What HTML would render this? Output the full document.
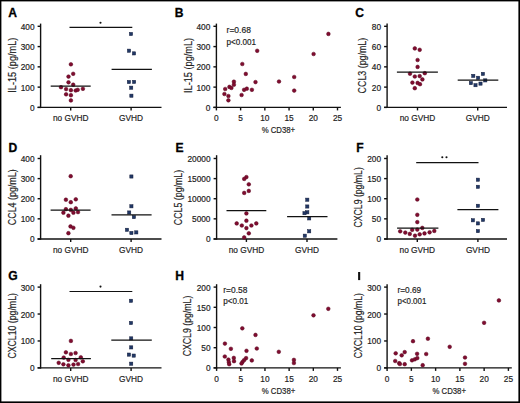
<!DOCTYPE html>
<html><head><meta charset="utf-8"><style>
html,body{margin:0;padding:0;background:#fff;width:520px;height:403px;overflow:hidden}
svg{display:block}
text{font-family:"Liberation Sans",sans-serif;fill:#222;stroke:#222;stroke-width:0.18px}
</style></head><body>
<svg width="520" height="403" viewBox="0 0 520 403">
<rect x="0" y="0" width="520" height="403" fill="#fff"/>
<text x="8.3" y="16.6" font-size="12.1" text-anchor="start" font-weight="bold" style="fill:#000;stroke:#000;stroke-width:0.3px">A</text>
<line x1="40.6" y1="23.6" x2="40.6" y2="108.1" stroke="#111" stroke-width="1.4"/>
<line x1="37.6" y1="107.4" x2="40.6" y2="107.4" stroke="#111" stroke-width="1.4"/>
<text x="34.5" y="110.9" font-size="8.3" text-anchor="end" font-weight="normal" >0</text>
<line x1="37.6" y1="87.12" x2="40.6" y2="87.12" stroke="#111" stroke-width="1.4"/>
<text x="34.5" y="90.62" font-size="8.3" text-anchor="end" font-weight="normal" >100</text>
<line x1="37.6" y1="66.85" x2="40.6" y2="66.85" stroke="#111" stroke-width="1.4"/>
<text x="34.5" y="70.35" font-size="8.3" text-anchor="end" font-weight="normal" >200</text>
<line x1="37.6" y1="46.58" x2="40.6" y2="46.58" stroke="#111" stroke-width="1.4"/>
<text x="34.5" y="50.08" font-size="8.3" text-anchor="end" font-weight="normal" >300</text>
<line x1="37.6" y1="26.3" x2="40.6" y2="26.3" stroke="#111" stroke-width="1.4"/>
<text x="34.5" y="29.8" font-size="8.3" text-anchor="end" font-weight="normal" >400</text>
<text x="0" y="0" font-size="10.4" text-anchor="middle" textLength="55" lengthAdjust="spacingAndGlyphs" transform="translate(15.9,65.2) rotate(-90)">IL-15 (pg/mL)</text>
<line x1="37.6" y1="107.4" x2="161.5" y2="107.4" stroke="#111" stroke-width="1.4"/>
<line x1="70.7" y1="107.4" x2="70.7" y2="110.4" stroke="#111" stroke-width="1.4"/>
<line x1="131.1" y1="107.4" x2="131.1" y2="110.4" stroke="#111" stroke-width="1.4"/>
<text x="70.7" y="121.4" font-size="8.3" text-anchor="middle" font-weight="normal" >no GVHD</text>
<text x="131.1" y="121.4" font-size="8.3" text-anchor="middle" font-weight="normal" >GVHD</text>
<line x1="69.5" y1="27.3" x2="132.3" y2="27.3" stroke="#111" stroke-width="1.2"/>
<circle cx="100.5" cy="22.7" r="1.05" fill="#111"/>
<circle cx="70.9" cy="64.3" r="1.85" fill="#800c30" stroke="#5a0a20" stroke-width="0.5"/>
<circle cx="73.2" cy="73.8" r="1.85" fill="#800c30" stroke="#5a0a20" stroke-width="0.5"/>
<circle cx="68.5" cy="76.6" r="1.85" fill="#800c30" stroke="#5a0a20" stroke-width="0.5"/>
<circle cx="68.5" cy="82.3" r="1.85" fill="#800c30" stroke="#5a0a20" stroke-width="0.5"/>
<circle cx="73.2" cy="84.7" r="1.85" fill="#800c30" stroke="#5a0a20" stroke-width="0.5"/>
<circle cx="61" cy="87.2" r="1.85" fill="#800c30" stroke="#5a0a20" stroke-width="0.5"/>
<circle cx="66.1" cy="89.1" r="1.85" fill="#800c30" stroke="#5a0a20" stroke-width="0.5"/>
<circle cx="70.9" cy="90.2" r="1.85" fill="#800c30" stroke="#5a0a20" stroke-width="0.5"/>
<circle cx="75.7" cy="90.5" r="1.85" fill="#800c30" stroke="#5a0a20" stroke-width="0.5"/>
<circle cx="77.7" cy="89.8" r="1.85" fill="#800c30" stroke="#5a0a20" stroke-width="0.5"/>
<circle cx="82.9" cy="88.8" r="1.85" fill="#800c30" stroke="#5a0a20" stroke-width="0.5"/>
<circle cx="66.1" cy="94.3" r="1.85" fill="#800c30" stroke="#5a0a20" stroke-width="0.5"/>
<circle cx="70.9" cy="95.2" r="1.85" fill="#800c30" stroke="#5a0a20" stroke-width="0.5"/>
<circle cx="70.9" cy="100.4" r="1.85" fill="#800c30" stroke="#5a0a20" stroke-width="0.5"/>
<line x1="50.7" y1="86.1" x2="90.7" y2="86.1" stroke="#111" stroke-width="1.25"/>
<rect x="129.4" y="32.4" width="3.2" height="3.2" fill="#213866" stroke="#141e3c" stroke-width="0.5"/>
<rect x="127.4" y="49.1" width="3.2" height="3.2" fill="#213866" stroke="#141e3c" stroke-width="0.5"/>
<rect x="132.4" y="51.8" width="3.2" height="3.2" fill="#213866" stroke="#141e3c" stroke-width="0.5"/>
<rect x="127.3" y="80.4" width="3.2" height="3.2" fill="#213866" stroke="#141e3c" stroke-width="0.5"/>
<rect x="132.5" y="80.3" width="3.2" height="3.2" fill="#213866" stroke="#141e3c" stroke-width="0.5"/>
<rect x="129.6" y="86.1" width="3.2" height="3.2" fill="#213866" stroke="#141e3c" stroke-width="0.5"/>
<rect x="129.8" y="94.1" width="3.2" height="3.2" fill="#213866" stroke="#141e3c" stroke-width="0.5"/>
<line x1="111.6" y1="69.4" x2="151.9" y2="69.4" stroke="#111" stroke-width="1.25"/>
<text x="174.8" y="16.9" font-size="12.1" text-anchor="start" font-weight="bold" style="fill:#000;stroke:#000;stroke-width:0.3px">B</text>
<line x1="216.4" y1="23.6" x2="216.4" y2="108.1" stroke="#111" stroke-width="1.4"/>
<line x1="213.4" y1="107.4" x2="216.4" y2="107.4" stroke="#111" stroke-width="1.4"/>
<text x="210.3" y="110.9" font-size="8.3" text-anchor="end" font-weight="normal" >0</text>
<line x1="213.4" y1="87.12" x2="216.4" y2="87.12" stroke="#111" stroke-width="1.4"/>
<text x="210.3" y="90.62" font-size="8.3" text-anchor="end" font-weight="normal" >100</text>
<line x1="213.4" y1="66.85" x2="216.4" y2="66.85" stroke="#111" stroke-width="1.4"/>
<text x="210.3" y="70.35" font-size="8.3" text-anchor="end" font-weight="normal" >200</text>
<line x1="213.4" y1="46.58" x2="216.4" y2="46.58" stroke="#111" stroke-width="1.4"/>
<text x="210.3" y="50.08" font-size="8.3" text-anchor="end" font-weight="normal" >300</text>
<line x1="213.4" y1="26.3" x2="216.4" y2="26.3" stroke="#111" stroke-width="1.4"/>
<text x="210.3" y="29.8" font-size="8.3" text-anchor="end" font-weight="normal" >400</text>
<text x="0" y="0" font-size="10.4" text-anchor="middle" textLength="55.1" lengthAdjust="spacingAndGlyphs" transform="translate(191.9,65.45) rotate(-90)">IL-15 (pg/mL)</text>
<line x1="213.4" y1="107.4" x2="340.9" y2="107.4" stroke="#111" stroke-width="1.4"/>
<line x1="216.4" y1="107.4" x2="216.4" y2="110.4" stroke="#111" stroke-width="1.4"/>
<text x="216.4" y="121" font-size="8.3" text-anchor="middle" font-weight="normal" >0</text>
<line x1="240.62" y1="107.4" x2="240.62" y2="110.4" stroke="#111" stroke-width="1.4"/>
<text x="240.62" y="121" font-size="8.3" text-anchor="middle" font-weight="normal" >5</text>
<line x1="264.84" y1="107.4" x2="264.84" y2="110.4" stroke="#111" stroke-width="1.4"/>
<text x="264.84" y="121" font-size="8.3" text-anchor="middle" font-weight="normal" >10</text>
<line x1="289.06" y1="107.4" x2="289.06" y2="110.4" stroke="#111" stroke-width="1.4"/>
<text x="289.06" y="121" font-size="8.3" text-anchor="middle" font-weight="normal" >15</text>
<line x1="313.28" y1="107.4" x2="313.28" y2="110.4" stroke="#111" stroke-width="1.4"/>
<text x="313.28" y="121" font-size="8.3" text-anchor="middle" font-weight="normal" >20</text>
<line x1="337.5" y1="107.4" x2="337.5" y2="110.4" stroke="#111" stroke-width="1.4"/>
<text x="337.5" y="121" font-size="8.3" text-anchor="middle" font-weight="normal" >25</text>
<text x="278.4" y="133" font-size="8.3" text-anchor="middle" font-weight="normal" textLength="33.5" lengthAdjust="spacingAndGlyphs">% CD38+</text>
<text x="226.6" y="33.3" font-size="8.9" text-anchor="start" font-weight="normal" textLength="24.3" lengthAdjust="spacingAndGlyphs">r=0.68</text>
<text x="226.6" y="44.6" font-size="8.9" text-anchor="start" font-weight="normal" textLength="29.5" lengthAdjust="spacingAndGlyphs">p&lt;0.001</text>
<circle cx="257.2" cy="50.8" r="1.85" fill="#800c30" stroke="#5a0a20" stroke-width="0.5"/>
<circle cx="242.3" cy="64" r="1.85" fill="#800c30" stroke="#5a0a20" stroke-width="0.5"/>
<circle cx="245.8" cy="73.9" r="1.85" fill="#800c30" stroke="#5a0a20" stroke-width="0.5"/>
<circle cx="255.5" cy="82.1" r="1.85" fill="#800c30" stroke="#5a0a20" stroke-width="0.5"/>
<circle cx="233.9" cy="81.7" r="1.85" fill="#800c30" stroke="#5a0a20" stroke-width="0.5"/>
<circle cx="233.9" cy="84.7" r="1.85" fill="#800c30" stroke="#5a0a20" stroke-width="0.5"/>
<circle cx="229.4" cy="86.9" r="1.85" fill="#800c30" stroke="#5a0a20" stroke-width="0.5"/>
<circle cx="231.4" cy="87.9" r="1.85" fill="#800c30" stroke="#5a0a20" stroke-width="0.5"/>
<circle cx="225.2" cy="89" r="1.85" fill="#800c30" stroke="#5a0a20" stroke-width="0.5"/>
<circle cx="224.4" cy="94" r="1.85" fill="#800c30" stroke="#5a0a20" stroke-width="0.5"/>
<circle cx="228.4" cy="96" r="1.85" fill="#800c30" stroke="#5a0a20" stroke-width="0.5"/>
<circle cx="228.4" cy="100.3" r="1.85" fill="#800c30" stroke="#5a0a20" stroke-width="0.5"/>
<circle cx="241.6" cy="95" r="1.85" fill="#800c30" stroke="#5a0a20" stroke-width="0.5"/>
<circle cx="244.1" cy="89.8" r="1.85" fill="#800c30" stroke="#5a0a20" stroke-width="0.5"/>
<circle cx="246.8" cy="88.7" r="1.85" fill="#800c30" stroke="#5a0a20" stroke-width="0.5"/>
<circle cx="251.9" cy="89.8" r="1.85" fill="#800c30" stroke="#5a0a20" stroke-width="0.5"/>
<circle cx="328.4" cy="33.9" r="1.85" fill="#800c30" stroke="#5a0a20" stroke-width="0.5"/>
<circle cx="313.6" cy="54" r="1.85" fill="#800c30" stroke="#5a0a20" stroke-width="0.5"/>
<circle cx="294.2" cy="77" r="1.85" fill="#800c30" stroke="#5a0a20" stroke-width="0.5"/>
<circle cx="279" cy="81.5" r="1.85" fill="#800c30" stroke="#5a0a20" stroke-width="0.5"/>
<circle cx="294.2" cy="90.6" r="1.85" fill="#800c30" stroke="#5a0a20" stroke-width="0.5"/>
<text x="355.2" y="17.2" font-size="12.1" text-anchor="start" font-weight="bold" style="fill:#000;stroke:#000;stroke-width:0.3px">C</text>
<line x1="387.1" y1="23.6" x2="387.1" y2="108.1" stroke="#111" stroke-width="1.4"/>
<line x1="384.1" y1="107.4" x2="387.1" y2="107.4" stroke="#111" stroke-width="1.4"/>
<text x="381" y="110.9" font-size="8.3" text-anchor="end" font-weight="normal" >0</text>
<line x1="384.1" y1="87.12" x2="387.1" y2="87.12" stroke="#111" stroke-width="1.4"/>
<text x="381" y="90.62" font-size="8.3" text-anchor="end" font-weight="normal" >20</text>
<line x1="384.1" y1="66.85" x2="387.1" y2="66.85" stroke="#111" stroke-width="1.4"/>
<text x="381" y="70.35" font-size="8.3" text-anchor="end" font-weight="normal" >40</text>
<line x1="384.1" y1="46.58" x2="387.1" y2="46.58" stroke="#111" stroke-width="1.4"/>
<text x="381" y="50.08" font-size="8.3" text-anchor="end" font-weight="normal" >60</text>
<line x1="384.1" y1="26.3" x2="387.1" y2="26.3" stroke="#111" stroke-width="1.4"/>
<text x="381" y="29.8" font-size="8.3" text-anchor="end" font-weight="normal" >80</text>
<text x="0" y="0" font-size="10.4" text-anchor="middle" textLength="55.6" lengthAdjust="spacingAndGlyphs" transform="translate(366.4,65.6) rotate(-90)">CCL3 (pg/mL)</text>
<line x1="384.1" y1="107.4" x2="507" y2="107.4" stroke="#111" stroke-width="1.4"/>
<line x1="417.5" y1="107.4" x2="417.5" y2="110.4" stroke="#111" stroke-width="1.4"/>
<line x1="477.7" y1="107.4" x2="477.7" y2="110.4" stroke="#111" stroke-width="1.4"/>
<text x="417.5" y="121.4" font-size="8.3" text-anchor="middle" font-weight="normal" >no GVHD</text>
<text x="477.7" y="121.4" font-size="8.3" text-anchor="middle" font-weight="normal" >GVHD</text>
<circle cx="414.8" cy="48.4" r="1.85" fill="#800c30" stroke="#5a0a20" stroke-width="0.5"/>
<circle cx="419.7" cy="49.8" r="1.85" fill="#800c30" stroke="#5a0a20" stroke-width="0.5"/>
<circle cx="417.6" cy="60" r="1.85" fill="#800c30" stroke="#5a0a20" stroke-width="0.5"/>
<circle cx="417.6" cy="66.9" r="1.85" fill="#800c30" stroke="#5a0a20" stroke-width="0.5"/>
<circle cx="410" cy="73.7" r="1.85" fill="#800c30" stroke="#5a0a20" stroke-width="0.5"/>
<circle cx="424.8" cy="73.2" r="1.85" fill="#800c30" stroke="#5a0a20" stroke-width="0.5"/>
<circle cx="414.8" cy="76.5" r="1.85" fill="#800c30" stroke="#5a0a20" stroke-width="0.5"/>
<circle cx="419.7" cy="76.1" r="1.85" fill="#800c30" stroke="#5a0a20" stroke-width="0.5"/>
<circle cx="422.4" cy="79.4" r="1.85" fill="#800c30" stroke="#5a0a20" stroke-width="0.5"/>
<circle cx="412.4" cy="82.6" r="1.85" fill="#800c30" stroke="#5a0a20" stroke-width="0.5"/>
<circle cx="417.6" cy="82.9" r="1.85" fill="#800c30" stroke="#5a0a20" stroke-width="0.5"/>
<circle cx="420" cy="84.2" r="1.85" fill="#800c30" stroke="#5a0a20" stroke-width="0.5"/>
<circle cx="414.8" cy="88.2" r="1.85" fill="#800c30" stroke="#5a0a20" stroke-width="0.5"/>
<line x1="396.9" y1="72" x2="437.9" y2="72" stroke="#111" stroke-width="1.25"/>
<rect x="471.7" y="74.3" width="3.2" height="3.2" fill="#213866" stroke="#141e3c" stroke-width="0.5"/>
<rect x="481.3" y="72.3" width="3.2" height="3.2" fill="#213866" stroke="#141e3c" stroke-width="0.5"/>
<rect x="476.5" y="76.2" width="3.2" height="3.2" fill="#213866" stroke="#141e3c" stroke-width="0.5"/>
<rect x="469.3" y="81.5" width="3.2" height="3.2" fill="#213866" stroke="#141e3c" stroke-width="0.5"/>
<rect x="473.9" y="83.6" width="3.2" height="3.2" fill="#213866" stroke="#141e3c" stroke-width="0.5"/>
<rect x="478.9" y="82" width="3.2" height="3.2" fill="#213866" stroke="#141e3c" stroke-width="0.5"/>
<rect x="483.7" y="78.8" width="3.2" height="3.2" fill="#213866" stroke="#141e3c" stroke-width="0.5"/>
<line x1="457.7" y1="80.2" x2="498.3" y2="80.2" stroke="#111" stroke-width="1.25"/>
<text x="8.4" y="151.8" font-size="12.1" text-anchor="start" font-weight="bold" style="fill:#000;stroke:#000;stroke-width:0.3px">D</text>
<line x1="40.6" y1="155.2" x2="40.6" y2="239.65" stroke="#111" stroke-width="1.4"/>
<line x1="37.6" y1="238.95" x2="40.6" y2="238.95" stroke="#111" stroke-width="1.4"/>
<text x="34.5" y="242.45" font-size="8.3" text-anchor="end" font-weight="normal" >0</text>
<line x1="37.6" y1="218.84" x2="40.6" y2="218.84" stroke="#111" stroke-width="1.4"/>
<text x="34.5" y="222.34" font-size="8.3" text-anchor="end" font-weight="normal" >100</text>
<line x1="37.6" y1="198.72" x2="40.6" y2="198.72" stroke="#111" stroke-width="1.4"/>
<text x="34.5" y="202.22" font-size="8.3" text-anchor="end" font-weight="normal" >200</text>
<line x1="37.6" y1="178.61" x2="40.6" y2="178.61" stroke="#111" stroke-width="1.4"/>
<text x="34.5" y="182.11" font-size="8.3" text-anchor="end" font-weight="normal" >300</text>
<line x1="37.6" y1="158.5" x2="40.6" y2="158.5" stroke="#111" stroke-width="1.4"/>
<text x="34.5" y="162" font-size="8.3" text-anchor="end" font-weight="normal" >400</text>
<text x="0" y="0" font-size="10.4" text-anchor="middle" textLength="55.8" lengthAdjust="spacingAndGlyphs" transform="translate(16,197.3) rotate(-90)">CCL4 (pg/mL)</text>
<line x1="37.6" y1="238.95" x2="161.5" y2="238.95" stroke="#111" stroke-width="1.4"/>
<line x1="70.7" y1="238.95" x2="70.7" y2="241.95" stroke="#111" stroke-width="1.4"/>
<line x1="131.1" y1="238.95" x2="131.1" y2="241.95" stroke="#111" stroke-width="1.4"/>
<text x="70.7" y="252.95" font-size="8.3" text-anchor="middle" font-weight="normal" >no GVHD</text>
<text x="131.1" y="252.95" font-size="8.3" text-anchor="middle" font-weight="normal" >GVHD</text>
<circle cx="70.7" cy="176.2" r="1.85" fill="#800c30" stroke="#5a0a20" stroke-width="0.5"/>
<circle cx="65.9" cy="199.7" r="1.85" fill="#800c30" stroke="#5a0a20" stroke-width="0.5"/>
<circle cx="70.8" cy="202.2" r="1.85" fill="#800c30" stroke="#5a0a20" stroke-width="0.5"/>
<circle cx="75.8" cy="199.3" r="1.85" fill="#800c30" stroke="#5a0a20" stroke-width="0.5"/>
<circle cx="65.9" cy="209.2" r="1.85" fill="#800c30" stroke="#5a0a20" stroke-width="0.5"/>
<circle cx="70.8" cy="209.9" r="1.85" fill="#800c30" stroke="#5a0a20" stroke-width="0.5"/>
<circle cx="75.8" cy="208.4" r="1.85" fill="#800c30" stroke="#5a0a20" stroke-width="0.5"/>
<circle cx="63.4" cy="212.7" r="1.85" fill="#800c30" stroke="#5a0a20" stroke-width="0.5"/>
<circle cx="73.4" cy="212.7" r="1.85" fill="#800c30" stroke="#5a0a20" stroke-width="0.5"/>
<circle cx="78" cy="212.1" r="1.85" fill="#800c30" stroke="#5a0a20" stroke-width="0.5"/>
<circle cx="68.4" cy="215.7" r="1.85" fill="#800c30" stroke="#5a0a20" stroke-width="0.5"/>
<circle cx="70.5" cy="226.4" r="1.85" fill="#800c30" stroke="#5a0a20" stroke-width="0.5"/>
<circle cx="73.4" cy="227.8" r="1.85" fill="#800c30" stroke="#5a0a20" stroke-width="0.5"/>
<circle cx="68.4" cy="233.2" r="1.85" fill="#800c30" stroke="#5a0a20" stroke-width="0.5"/>
<line x1="50.6" y1="210" x2="90.6" y2="210" stroke="#111" stroke-width="1.25"/>
<rect x="129.8" y="174.9" width="3.2" height="3.2" fill="#213866" stroke="#141e3c" stroke-width="0.5"/>
<rect x="129.8" y="204.7" width="3.2" height="3.2" fill="#213866" stroke="#141e3c" stroke-width="0.5"/>
<rect x="127.6" y="210.9" width="3.2" height="3.2" fill="#213866" stroke="#141e3c" stroke-width="0.5"/>
<rect x="132.3" y="215.5" width="3.2" height="3.2" fill="#213866" stroke="#141e3c" stroke-width="0.5"/>
<rect x="125.4" y="228.2" width="3.2" height="3.2" fill="#213866" stroke="#141e3c" stroke-width="0.5"/>
<rect x="129.8" y="231.4" width="3.2" height="3.2" fill="#213866" stroke="#141e3c" stroke-width="0.5"/>
<rect x="134.7" y="230.8" width="3.2" height="3.2" fill="#213866" stroke="#141e3c" stroke-width="0.5"/>
<line x1="111.5" y1="214.9" x2="151.6" y2="214.9" stroke="#111" stroke-width="1.25"/>
<text x="175.6" y="151.7" font-size="12.1" text-anchor="start" font-weight="bold" style="fill:#000;stroke:#000;stroke-width:0.3px">E</text>
<line x1="216.6" y1="155.2" x2="216.6" y2="239.65" stroke="#111" stroke-width="1.4"/>
<line x1="213.6" y1="238.95" x2="216.6" y2="238.95" stroke="#111" stroke-width="1.4"/>
<text x="210.5" y="242.45" font-size="8.3" text-anchor="end" font-weight="normal" >0</text>
<line x1="213.6" y1="218.84" x2="216.6" y2="218.84" stroke="#111" stroke-width="1.4"/>
<text x="210.5" y="222.34" font-size="8.3" text-anchor="end" font-weight="normal" >5000</text>
<line x1="213.6" y1="198.72" x2="216.6" y2="198.72" stroke="#111" stroke-width="1.4"/>
<text x="210.5" y="202.22" font-size="8.3" text-anchor="end" font-weight="normal" >10000</text>
<line x1="213.6" y1="178.61" x2="216.6" y2="178.61" stroke="#111" stroke-width="1.4"/>
<text x="210.5" y="182.11" font-size="8.3" text-anchor="end" font-weight="normal" >15000</text>
<line x1="213.6" y1="158.5" x2="216.6" y2="158.5" stroke="#111" stroke-width="1.4"/>
<text x="210.5" y="162" font-size="8.3" text-anchor="end" font-weight="normal" >20000</text>
<text x="0" y="0" font-size="10.4" text-anchor="middle" textLength="55.4" lengthAdjust="spacingAndGlyphs" transform="translate(181.9,197.5) rotate(-90)">CCL5 (pg/mL)</text>
<line x1="213.6" y1="238.95" x2="337.4" y2="238.95" stroke="#111" stroke-width="1.4"/>
<line x1="246.4" y1="238.95" x2="246.4" y2="241.95" stroke="#111" stroke-width="1.4"/>
<line x1="307" y1="238.95" x2="307" y2="241.95" stroke="#111" stroke-width="1.4"/>
<text x="246.4" y="252.95" font-size="8.3" text-anchor="middle" font-weight="normal" >no GVHD</text>
<text x="307" y="252.95" font-size="8.3" text-anchor="middle" font-weight="normal" >GVHD</text>
<circle cx="246.4" cy="177.1" r="1.85" fill="#800c30" stroke="#5a0a20" stroke-width="0.5"/>
<circle cx="244.2" cy="178.9" r="1.85" fill="#800c30" stroke="#5a0a20" stroke-width="0.5"/>
<circle cx="248.8" cy="184.3" r="1.85" fill="#800c30" stroke="#5a0a20" stroke-width="0.5"/>
<circle cx="248.8" cy="190.9" r="1.85" fill="#800c30" stroke="#5a0a20" stroke-width="0.5"/>
<circle cx="244.2" cy="192.9" r="1.85" fill="#800c30" stroke="#5a0a20" stroke-width="0.5"/>
<circle cx="246.4" cy="213.4" r="1.85" fill="#800c30" stroke="#5a0a20" stroke-width="0.5"/>
<circle cx="246.4" cy="220.7" r="1.85" fill="#800c30" stroke="#5a0a20" stroke-width="0.5"/>
<circle cx="236.7" cy="223.4" r="1.85" fill="#800c30" stroke="#5a0a20" stroke-width="0.5"/>
<circle cx="241.8" cy="225.5" r="1.85" fill="#800c30" stroke="#5a0a20" stroke-width="0.5"/>
<circle cx="251.4" cy="225.5" r="1.85" fill="#800c30" stroke="#5a0a20" stroke-width="0.5"/>
<circle cx="256.3" cy="223.4" r="1.85" fill="#800c30" stroke="#5a0a20" stroke-width="0.5"/>
<circle cx="246.4" cy="228.1" r="1.85" fill="#800c30" stroke="#5a0a20" stroke-width="0.5"/>
<circle cx="248.8" cy="233.3" r="1.85" fill="#800c30" stroke="#5a0a20" stroke-width="0.5"/>
<circle cx="244.2" cy="237.4" r="1.85" fill="#800c30" stroke="#5a0a20" stroke-width="0.5"/>
<line x1="226.5" y1="210.6" x2="266.3" y2="210.6" stroke="#111" stroke-width="1.25"/>
<rect x="305.7" y="198.1" width="3.2" height="3.2" fill="#213866" stroke="#141e3c" stroke-width="0.5"/>
<rect x="305.7" y="204.9" width="3.2" height="3.2" fill="#213866" stroke="#141e3c" stroke-width="0.5"/>
<rect x="305.7" y="210.7" width="3.2" height="3.2" fill="#213866" stroke="#141e3c" stroke-width="0.5"/>
<rect x="302.9" y="211.6" width="3.2" height="3.2" fill="#213866" stroke="#141e3c" stroke-width="0.5"/>
<rect x="307.6" y="216.8" width="3.2" height="3.2" fill="#213866" stroke="#141e3c" stroke-width="0.5"/>
<rect x="307.6" y="229.7" width="3.2" height="3.2" fill="#213866" stroke="#141e3c" stroke-width="0.5"/>
<rect x="303.2" y="234.1" width="3.2" height="3.2" fill="#213866" stroke="#141e3c" stroke-width="0.5"/>
<line x1="287.1" y1="216.5" x2="327.5" y2="216.5" stroke="#111" stroke-width="1.25"/>
<text x="356.3" y="151.9" font-size="12.1" text-anchor="start" font-weight="bold" style="fill:#000;stroke:#000;stroke-width:0.3px">F</text>
<line x1="387.1" y1="155.2" x2="387.1" y2="239.65" stroke="#111" stroke-width="1.4"/>
<line x1="384.1" y1="238.95" x2="387.1" y2="238.95" stroke="#111" stroke-width="1.4"/>
<text x="381" y="242.45" font-size="8.3" text-anchor="end" font-weight="normal" >0</text>
<line x1="384.1" y1="218.84" x2="387.1" y2="218.84" stroke="#111" stroke-width="1.4"/>
<text x="381" y="222.34" font-size="8.3" text-anchor="end" font-weight="normal" >50</text>
<line x1="384.1" y1="198.72" x2="387.1" y2="198.72" stroke="#111" stroke-width="1.4"/>
<text x="381" y="202.22" font-size="8.3" text-anchor="end" font-weight="normal" >100</text>
<line x1="384.1" y1="178.61" x2="387.1" y2="178.61" stroke="#111" stroke-width="1.4"/>
<text x="381" y="182.11" font-size="8.3" text-anchor="end" font-weight="normal" >150</text>
<line x1="384.1" y1="158.5" x2="387.1" y2="158.5" stroke="#111" stroke-width="1.4"/>
<text x="381" y="162" font-size="8.3" text-anchor="end" font-weight="normal" >200</text>
<text x="0" y="0" font-size="10.4" text-anchor="middle" textLength="60.3" lengthAdjust="spacingAndGlyphs" transform="translate(362.3,197.35) rotate(-90)">CXCL9 (pg/mL)</text>
<line x1="384.1" y1="238.95" x2="507" y2="238.95" stroke="#111" stroke-width="1.4"/>
<line x1="417.3" y1="238.95" x2="417.3" y2="241.95" stroke="#111" stroke-width="1.4"/>
<line x1="477.9" y1="238.95" x2="477.9" y2="241.95" stroke="#111" stroke-width="1.4"/>
<text x="417.3" y="252.95" font-size="8.3" text-anchor="middle" font-weight="normal" >no GVHD</text>
<text x="477.9" y="252.95" font-size="8.3" text-anchor="middle" font-weight="normal" >GVHD</text>
<line x1="416.2" y1="162.7" x2="478.5" y2="162.7" stroke="#111" stroke-width="1.2"/>
<circle cx="442.3" cy="157.2" r="1.05" fill="#111"/>
<circle cx="446.5" cy="157.2" r="1.05" fill="#111"/>
<circle cx="417.3" cy="199.5" r="1.85" fill="#800c30" stroke="#5a0a20" stroke-width="0.5"/>
<circle cx="417.3" cy="214.8" r="1.85" fill="#800c30" stroke="#5a0a20" stroke-width="0.5"/>
<circle cx="417.3" cy="222.1" r="1.85" fill="#800c30" stroke="#5a0a20" stroke-width="0.5"/>
<circle cx="422.3" cy="227.9" r="1.85" fill="#800c30" stroke="#5a0a20" stroke-width="0.5"/>
<circle cx="412.2" cy="229.8" r="1.85" fill="#800c30" stroke="#5a0a20" stroke-width="0.5"/>
<circle cx="417.3" cy="229.6" r="1.85" fill="#800c30" stroke="#5a0a20" stroke-width="0.5"/>
<circle cx="400.2" cy="231.3" r="1.85" fill="#800c30" stroke="#5a0a20" stroke-width="0.5"/>
<circle cx="405.3" cy="232.6" r="1.85" fill="#800c30" stroke="#5a0a20" stroke-width="0.5"/>
<circle cx="409.8" cy="233.9" r="1.85" fill="#800c30" stroke="#5a0a20" stroke-width="0.5"/>
<circle cx="415" cy="235.7" r="1.85" fill="#800c30" stroke="#5a0a20" stroke-width="0.5"/>
<circle cx="419.7" cy="234.3" r="1.85" fill="#800c30" stroke="#5a0a20" stroke-width="0.5"/>
<circle cx="424.5" cy="233.4" r="1.85" fill="#800c30" stroke="#5a0a20" stroke-width="0.5"/>
<circle cx="429.6" cy="232.3" r="1.85" fill="#800c30" stroke="#5a0a20" stroke-width="0.5"/>
<circle cx="434.3" cy="230.9" r="1.85" fill="#800c30" stroke="#5a0a20" stroke-width="0.5"/>
<line x1="397.1" y1="228.2" x2="438.4" y2="228.2" stroke="#111" stroke-width="1.25"/>
<rect x="476.3" y="178.1" width="3.2" height="3.2" fill="#213866" stroke="#141e3c" stroke-width="0.5"/>
<rect x="476.3" y="185.2" width="3.2" height="3.2" fill="#213866" stroke="#141e3c" stroke-width="0.5"/>
<rect x="476.3" y="204.2" width="3.2" height="3.2" fill="#213866" stroke="#141e3c" stroke-width="0.5"/>
<rect x="471.3" y="218.7" width="3.2" height="3.2" fill="#213866" stroke="#141e3c" stroke-width="0.5"/>
<rect x="481.4" y="218.3" width="3.2" height="3.2" fill="#213866" stroke="#141e3c" stroke-width="0.5"/>
<rect x="476.3" y="221.8" width="3.2" height="3.2" fill="#213866" stroke="#141e3c" stroke-width="0.5"/>
<rect x="476.3" y="229.5" width="3.2" height="3.2" fill="#213866" stroke="#141e3c" stroke-width="0.5"/>
<line x1="457.4" y1="209.5" x2="498.4" y2="209.5" stroke="#111" stroke-width="1.25"/>
<text x="8.3" y="280" font-size="12.1" text-anchor="start" font-weight="bold" style="fill:#000;stroke:#000;stroke-width:0.3px">G</text>
<line x1="40.6" y1="284.2" x2="40.6" y2="368.6" stroke="#111" stroke-width="1.4"/>
<line x1="37.6" y1="367.9" x2="40.6" y2="367.9" stroke="#111" stroke-width="1.4"/>
<text x="34.5" y="371.4" font-size="8.3" text-anchor="end" font-weight="normal" >0</text>
<line x1="37.6" y1="340.97" x2="40.6" y2="340.97" stroke="#111" stroke-width="1.4"/>
<text x="34.5" y="344.47" font-size="8.3" text-anchor="end" font-weight="normal" >100</text>
<line x1="37.6" y1="314.03" x2="40.6" y2="314.03" stroke="#111" stroke-width="1.4"/>
<text x="34.5" y="317.53" font-size="8.3" text-anchor="end" font-weight="normal" >200</text>
<line x1="37.6" y1="287.1" x2="40.6" y2="287.1" stroke="#111" stroke-width="1.4"/>
<text x="34.5" y="290.6" font-size="8.3" text-anchor="end" font-weight="normal" >300</text>
<text x="0" y="0" font-size="10.4" text-anchor="middle" textLength="65.5" lengthAdjust="spacingAndGlyphs" transform="translate(16,325.85) rotate(-90)">CXCL10 (pg/mL)</text>
<line x1="37.6" y1="367.9" x2="161.5" y2="367.9" stroke="#111" stroke-width="1.4"/>
<line x1="70.7" y1="367.9" x2="70.7" y2="370.9" stroke="#111" stroke-width="1.4"/>
<line x1="131.1" y1="367.9" x2="131.1" y2="370.9" stroke="#111" stroke-width="1.4"/>
<text x="70.7" y="381.9" font-size="8.3" text-anchor="middle" font-weight="normal" >no GVHD</text>
<text x="131.1" y="381.9" font-size="8.3" text-anchor="middle" font-weight="normal" >GVHD</text>
<line x1="69.5" y1="291.5" x2="132.3" y2="291.5" stroke="#111" stroke-width="1.2"/>
<circle cx="100.5" cy="286.6" r="1.05" fill="#111"/>
<circle cx="70.9" cy="340.9" r="1.85" fill="#800c30" stroke="#5a0a20" stroke-width="0.5"/>
<circle cx="65.9" cy="352.3" r="1.85" fill="#800c30" stroke="#5a0a20" stroke-width="0.5"/>
<circle cx="70.9" cy="354" r="1.85" fill="#800c30" stroke="#5a0a20" stroke-width="0.5"/>
<circle cx="75.6" cy="353" r="1.85" fill="#800c30" stroke="#5a0a20" stroke-width="0.5"/>
<circle cx="63.7" cy="357.6" r="1.85" fill="#800c30" stroke="#5a0a20" stroke-width="0.5"/>
<circle cx="68.4" cy="359.8" r="1.85" fill="#800c30" stroke="#5a0a20" stroke-width="0.5"/>
<circle cx="75.6" cy="360" r="1.85" fill="#800c30" stroke="#5a0a20" stroke-width="0.5"/>
<circle cx="80.8" cy="357.3" r="1.85" fill="#800c30" stroke="#5a0a20" stroke-width="0.5"/>
<circle cx="82.8" cy="361.3" r="1.85" fill="#800c30" stroke="#5a0a20" stroke-width="0.5"/>
<circle cx="58.7" cy="362.8" r="1.85" fill="#800c30" stroke="#5a0a20" stroke-width="0.5"/>
<circle cx="63.4" cy="364.3" r="1.85" fill="#800c30" stroke="#5a0a20" stroke-width="0.5"/>
<circle cx="68.4" cy="365.3" r="1.85" fill="#800c30" stroke="#5a0a20" stroke-width="0.5"/>
<circle cx="73.5" cy="364.6" r="1.85" fill="#800c30" stroke="#5a0a20" stroke-width="0.5"/>
<circle cx="78.1" cy="364" r="1.85" fill="#800c30" stroke="#5a0a20" stroke-width="0.5"/>
<line x1="51.2" y1="358.6" x2="90.9" y2="358.6" stroke="#111" stroke-width="1.25"/>
<rect x="129.4" y="299.2" width="3.2" height="3.2" fill="#213866" stroke="#141e3c" stroke-width="0.5"/>
<rect x="129.4" y="321.4" width="3.2" height="3.2" fill="#213866" stroke="#141e3c" stroke-width="0.5"/>
<rect x="129.6" y="336.8" width="3.2" height="3.2" fill="#213866" stroke="#141e3c" stroke-width="0.5"/>
<rect x="129.6" y="345.8" width="3.2" height="3.2" fill="#213866" stroke="#141e3c" stroke-width="0.5"/>
<rect x="127.3" y="353" width="3.2" height="3.2" fill="#213866" stroke="#141e3c" stroke-width="0.5"/>
<rect x="132.1" y="354" width="3.2" height="3.2" fill="#213866" stroke="#141e3c" stroke-width="0.5"/>
<rect x="129.6" y="362.1" width="3.2" height="3.2" fill="#213866" stroke="#141e3c" stroke-width="0.5"/>
<line x1="111.3" y1="340.2" x2="151.8" y2="340.2" stroke="#111" stroke-width="1.25"/>
<text x="175.2" y="280.4" font-size="12.1" text-anchor="start" font-weight="bold" style="fill:#000;stroke:#000;stroke-width:0.3px">H</text>
<line x1="216.6" y1="284.2" x2="216.6" y2="368.6" stroke="#111" stroke-width="1.4"/>
<line x1="213.6" y1="367.9" x2="216.6" y2="367.9" stroke="#111" stroke-width="1.4"/>
<text x="210.5" y="371.4" font-size="8.3" text-anchor="end" font-weight="normal" >0</text>
<line x1="213.6" y1="347.7" x2="216.6" y2="347.7" stroke="#111" stroke-width="1.4"/>
<text x="210.5" y="351.2" font-size="8.3" text-anchor="end" font-weight="normal" >50</text>
<line x1="213.6" y1="327.5" x2="216.6" y2="327.5" stroke="#111" stroke-width="1.4"/>
<text x="210.5" y="331" font-size="8.3" text-anchor="end" font-weight="normal" >100</text>
<line x1="213.6" y1="307.3" x2="216.6" y2="307.3" stroke="#111" stroke-width="1.4"/>
<text x="210.5" y="310.8" font-size="8.3" text-anchor="end" font-weight="normal" >150</text>
<line x1="213.6" y1="287.1" x2="216.6" y2="287.1" stroke="#111" stroke-width="1.4"/>
<text x="210.5" y="290.6" font-size="8.3" text-anchor="end" font-weight="normal" >200</text>
<text x="0" y="0" font-size="10.4" text-anchor="middle" textLength="60.6" lengthAdjust="spacingAndGlyphs" transform="translate(191.4,326) rotate(-90)">CXCL9 (pg/mL)</text>
<line x1="213.6" y1="367.9" x2="340.9" y2="367.9" stroke="#111" stroke-width="1.4"/>
<line x1="216.6" y1="367.9" x2="216.6" y2="370.9" stroke="#111" stroke-width="1.4"/>
<text x="216.6" y="381.5" font-size="8.3" text-anchor="middle" font-weight="normal" >0</text>
<line x1="240.78" y1="367.9" x2="240.78" y2="370.9" stroke="#111" stroke-width="1.4"/>
<text x="240.78" y="381.5" font-size="8.3" text-anchor="middle" font-weight="normal" >5</text>
<line x1="264.96" y1="367.9" x2="264.96" y2="370.9" stroke="#111" stroke-width="1.4"/>
<text x="264.96" y="381.5" font-size="8.3" text-anchor="middle" font-weight="normal" >10</text>
<line x1="289.14" y1="367.9" x2="289.14" y2="370.9" stroke="#111" stroke-width="1.4"/>
<text x="289.14" y="381.5" font-size="8.3" text-anchor="middle" font-weight="normal" >15</text>
<line x1="313.32" y1="367.9" x2="313.32" y2="370.9" stroke="#111" stroke-width="1.4"/>
<text x="313.32" y="381.5" font-size="8.3" text-anchor="middle" font-weight="normal" >20</text>
<line x1="337.5" y1="367.9" x2="337.5" y2="370.9" stroke="#111" stroke-width="1.4"/>
<text x="337.5" y="381.5" font-size="8.3" text-anchor="middle" font-weight="normal" >25</text>
<text x="278.5" y="393.5" font-size="8.3" text-anchor="middle" font-weight="normal" textLength="33.5" lengthAdjust="spacingAndGlyphs">% CD38+</text>
<text x="223.3" y="293.3" font-size="8.9" text-anchor="start" font-weight="normal" textLength="24.0" lengthAdjust="spacingAndGlyphs">r=0.58</text>
<text x="223.3" y="303.8" font-size="8.9" text-anchor="start" font-weight="normal" textLength="25.0" lengthAdjust="spacingAndGlyphs">p&lt;0.01</text>
<circle cx="242.3" cy="328.3" r="1.85" fill="#800c30" stroke="#5a0a20" stroke-width="0.5"/>
<circle cx="255.5" cy="334.9" r="1.85" fill="#800c30" stroke="#5a0a20" stroke-width="0.5"/>
<circle cx="224.9" cy="343.6" r="1.85" fill="#800c30" stroke="#5a0a20" stroke-width="0.5"/>
<circle cx="230.9" cy="348.8" r="1.85" fill="#800c30" stroke="#5a0a20" stroke-width="0.5"/>
<circle cx="246.5" cy="350.8" r="1.85" fill="#800c30" stroke="#5a0a20" stroke-width="0.5"/>
<circle cx="256.8" cy="348.5" r="1.85" fill="#800c30" stroke="#5a0a20" stroke-width="0.5"/>
<circle cx="224.8" cy="356.5" r="1.85" fill="#800c30" stroke="#5a0a20" stroke-width="0.5"/>
<circle cx="228.4" cy="359.6" r="1.85" fill="#800c30" stroke="#5a0a20" stroke-width="0.5"/>
<circle cx="228.8" cy="362.1" r="1.85" fill="#800c30" stroke="#5a0a20" stroke-width="0.5"/>
<circle cx="229.2" cy="364.2" r="1.85" fill="#800c30" stroke="#5a0a20" stroke-width="0.5"/>
<circle cx="233.8" cy="357.9" r="1.85" fill="#800c30" stroke="#5a0a20" stroke-width="0.5"/>
<circle cx="234" cy="361.2" r="1.85" fill="#800c30" stroke="#5a0a20" stroke-width="0.5"/>
<circle cx="246.1" cy="358.1" r="1.85" fill="#800c30" stroke="#5a0a20" stroke-width="0.5"/>
<circle cx="244.2" cy="360" r="1.85" fill="#800c30" stroke="#5a0a20" stroke-width="0.5"/>
<circle cx="242.6" cy="361.8" r="1.85" fill="#800c30" stroke="#5a0a20" stroke-width="0.5"/>
<circle cx="241.5" cy="363.5" r="1.85" fill="#800c30" stroke="#5a0a20" stroke-width="0.5"/>
<circle cx="251.8" cy="360.4" r="1.85" fill="#800c30" stroke="#5a0a20" stroke-width="0.5"/>
<circle cx="328.3" cy="308.8" r="1.85" fill="#800c30" stroke="#5a0a20" stroke-width="0.5"/>
<circle cx="313.5" cy="315.3" r="1.85" fill="#800c30" stroke="#5a0a20" stroke-width="0.5"/>
<circle cx="278.8" cy="351.8" r="1.85" fill="#800c30" stroke="#5a0a20" stroke-width="0.5"/>
<circle cx="293.9" cy="359.9" r="1.85" fill="#800c30" stroke="#5a0a20" stroke-width="0.5"/>
<circle cx="293.9" cy="363" r="1.85" fill="#800c30" stroke="#5a0a20" stroke-width="0.5"/>
<rect x="358.1" y="272.0" width="2.1" height="8.1" fill="#111"/>
<line x1="387.1" y1="284.2" x2="387.1" y2="368.6" stroke="#111" stroke-width="1.4"/>
<line x1="384.1" y1="367.9" x2="387.1" y2="367.9" stroke="#111" stroke-width="1.4"/>
<text x="381" y="371.4" font-size="8.3" text-anchor="end" font-weight="normal" >0</text>
<line x1="384.1" y1="340.97" x2="387.1" y2="340.97" stroke="#111" stroke-width="1.4"/>
<text x="381" y="344.47" font-size="8.3" text-anchor="end" font-weight="normal" >100</text>
<line x1="384.1" y1="314.03" x2="387.1" y2="314.03" stroke="#111" stroke-width="1.4"/>
<text x="381" y="317.53" font-size="8.3" text-anchor="end" font-weight="normal" >200</text>
<line x1="384.1" y1="287.1" x2="387.1" y2="287.1" stroke="#111" stroke-width="1.4"/>
<text x="381" y="290.6" font-size="8.3" text-anchor="end" font-weight="normal" >300</text>
<text x="0" y="0" font-size="10.4" text-anchor="middle" textLength="65.1" lengthAdjust="spacingAndGlyphs" transform="translate(362.3,325.65) rotate(-90)">CXCL10 (pg/mL)</text>
<line x1="384.1" y1="367.9" x2="511.8" y2="367.9" stroke="#111" stroke-width="1.4"/>
<line x1="387.1" y1="367.9" x2="387.1" y2="370.9" stroke="#111" stroke-width="1.4"/>
<text x="387.1" y="381.5" font-size="8.3" text-anchor="middle" font-weight="normal" >0</text>
<line x1="411.36" y1="367.9" x2="411.36" y2="370.9" stroke="#111" stroke-width="1.4"/>
<text x="411.36" y="381.5" font-size="8.3" text-anchor="middle" font-weight="normal" >5</text>
<line x1="435.62" y1="367.9" x2="435.62" y2="370.9" stroke="#111" stroke-width="1.4"/>
<text x="435.62" y="381.5" font-size="8.3" text-anchor="middle" font-weight="normal" >10</text>
<line x1="459.88" y1="367.9" x2="459.88" y2="370.9" stroke="#111" stroke-width="1.4"/>
<text x="459.88" y="381.5" font-size="8.3" text-anchor="middle" font-weight="normal" >15</text>
<line x1="484.14" y1="367.9" x2="484.14" y2="370.9" stroke="#111" stroke-width="1.4"/>
<text x="484.14" y="381.5" font-size="8.3" text-anchor="middle" font-weight="normal" >20</text>
<line x1="508.4" y1="367.9" x2="508.4" y2="370.9" stroke="#111" stroke-width="1.4"/>
<text x="508.4" y="381.5" font-size="8.3" text-anchor="middle" font-weight="normal" >25</text>
<text x="449.21" y="393.5" font-size="8.3" text-anchor="middle" font-weight="normal" textLength="33.5" lengthAdjust="spacingAndGlyphs">% CD38+</text>
<text x="397.5" y="292.8" font-size="8.9" text-anchor="start" font-weight="normal" textLength="23.7" lengthAdjust="spacingAndGlyphs">r=0.69</text>
<text x="397.5" y="304.1" font-size="8.9" text-anchor="start" font-weight="normal" textLength="28.8" lengthAdjust="spacingAndGlyphs">p&lt;0.001</text>
<circle cx="413" cy="341.2" r="1.85" fill="#800c30" stroke="#5a0a20" stroke-width="0.5"/>
<circle cx="427.9" cy="338.7" r="1.85" fill="#800c30" stroke="#5a0a20" stroke-width="0.5"/>
<circle cx="395.7" cy="353.3" r="1.85" fill="#800c30" stroke="#5a0a20" stroke-width="0.5"/>
<circle cx="401.7" cy="355.3" r="1.85" fill="#800c30" stroke="#5a0a20" stroke-width="0.5"/>
<circle cx="404.7" cy="352.1" r="1.85" fill="#800c30" stroke="#5a0a20" stroke-width="0.5"/>
<circle cx="417.1" cy="353.8" r="1.85" fill="#800c30" stroke="#5a0a20" stroke-width="0.5"/>
<circle cx="426.2" cy="354" r="1.85" fill="#800c30" stroke="#5a0a20" stroke-width="0.5"/>
<circle cx="395.2" cy="361" r="1.85" fill="#800c30" stroke="#5a0a20" stroke-width="0.5"/>
<circle cx="399.2" cy="363.2" r="1.85" fill="#800c30" stroke="#5a0a20" stroke-width="0.5"/>
<circle cx="399.9" cy="364" r="1.85" fill="#800c30" stroke="#5a0a20" stroke-width="0.5"/>
<circle cx="404.7" cy="364.2" r="1.85" fill="#800c30" stroke="#5a0a20" stroke-width="0.5"/>
<circle cx="412" cy="360.3" r="1.85" fill="#800c30" stroke="#5a0a20" stroke-width="0.5"/>
<circle cx="414.8" cy="359.3" r="1.85" fill="#800c30" stroke="#5a0a20" stroke-width="0.5"/>
<circle cx="417.3" cy="358.1" r="1.85" fill="#800c30" stroke="#5a0a20" stroke-width="0.5"/>
<circle cx="422.7" cy="365.2" r="1.85" fill="#800c30" stroke="#5a0a20" stroke-width="0.5"/>
<circle cx="498.9" cy="300.4" r="1.85" fill="#800c30" stroke="#5a0a20" stroke-width="0.5"/>
<circle cx="484.1" cy="322.8" r="1.85" fill="#800c30" stroke="#5a0a20" stroke-width="0.5"/>
<circle cx="449.7" cy="346.8" r="1.85" fill="#800c30" stroke="#5a0a20" stroke-width="0.5"/>
<circle cx="465" cy="357.5" r="1.85" fill="#800c30" stroke="#5a0a20" stroke-width="0.5"/>
<circle cx="465" cy="363.8" r="1.85" fill="#800c30" stroke="#5a0a20" stroke-width="0.5"/>
<rect x="0" y="0" width="520" height="1.4" fill="#000"/>
<rect x="0" y="0" width="1.4" height="403" fill="#000"/>
<rect x="0" y="401.4" width="520" height="1.6" fill="#000"/>
<rect x="518.4" y="0" width="1.6" height="403" fill="#000"/>
</svg>
</body></html>
